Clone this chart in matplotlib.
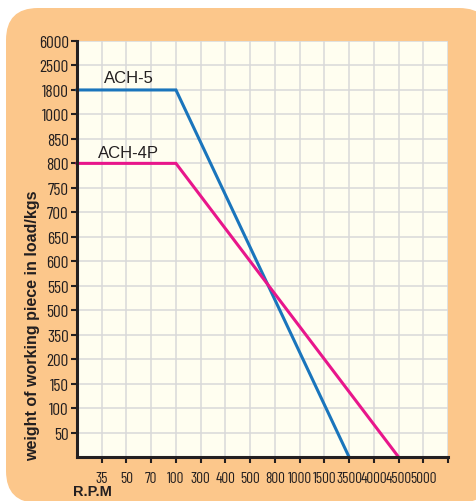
import matplotlib
import numpy as np
from matplotlib import pyplot as plt
from matplotlib.patches import FancyBboxPatch

matplotlib.use('Agg')

# category labels along the axes (bottom to top, left to right)
load_labels = ['50', '100', '150', '200', '350', '500', '550', '600', '650',
               '700', '750', '800', '850', '1000', '1800', '2500', '6000']
rpm_labels = ['35', '50', '70', '100', '300', '400', '500', '800', '1000',
              '1500', '3500', '4000', '4500', '5000']

# each series: (rpm, load) corner points, '0' is the origin
ach5_rpm = ['0', '100', '3500']
ach5_load = ['1800', '1800', '0']
ach4p_rpm = ['0', '100', '4500']
ach4p_load = ['800', '800', '0']


def pos(labels, values):
    # categorical position, origin sits at 0
    return [0 if v == '0' else labels.index(v) + 1 for v in values]


fig = plt.figure(figsize=(4.76, 5.02), dpi=100, facecolor='white')

# orange rounded frame behind everything
frame = FancyBboxPatch((0.06, -0.02), 4.85, 4.95,
                       boxstyle='round,pad=0,rounding_size=0.32',
                       transform=fig.dpi_scale_trans,
                       facecolor='#fcc78b', edgecolor='none', zorder=-5)
fig.patches.append(frame)

ax = fig.add_axes([0.1618, 0.0876, 0.7794, 0.8287])
ax.set_facecolor('#fffef0')
ax.set_xlim(0, len(rpm_labels) + 1)
ax.set_ylim(0, len(load_labels))

# the numbers in the original are very narrow
narrow = ['Barlow Condensed', 'Archivo Narrow', 'DejaVu Sans']

ax.set_yticks(np.arange(1, len(load_labels) + 1))
ax.set_yticklabels(load_labels, family=narrow, fontsize=12.5)
ax.set_xticks(np.arange(1, len(rpm_labels) + 2))
ax.set_xticklabels(rpm_labels + [''], family=narrow, fontsize=11)

ax.grid(True, color='#d9d9d9', linewidth=1.1)
ax.set_axisbelow(True)
ax.tick_params(axis='both', length=4, width=1.5, color='#231f20',
               labelcolor='#231f20', pad=2)
ax.tick_params(axis='x', pad=6)

for side in ['top', 'right']:
    ax.spines[side].set_visible(False)
for side in ['left', 'bottom']:
    ax.spines[side].set_linewidth(2.2)
    ax.spines[side].set_color('#231f20')

ax.plot(pos(rpm_labels, ach5_rpm), pos(load_labels, ach5_load),
        color='#1a75bc', linewidth=2.2, solid_joinstyle='miter', clip_on=False)
ax.plot(pos(rpm_labels, ach4p_rpm), pos(load_labels, ach4p_load),
        color='#e8168b', linewidth=2.2, solid_joinstyle='miter', clip_on=False)

ax.text(2.1, 15.5, 'ACH-5', ha='center', va='center', fontsize=12,
        family='Liberation Sans', color='#231f20')
ax.text(2.1, 12.45, 'ACH-4P', ha='center', va='center', fontsize=12,
        family='Liberation Sans', color='#231f20')

fig.text(33 / 476, 1 - 326 / 502, 'weight of working piece in load/kgs',
         rotation=90, ha='center', va='center', fontsize=11.5,
         fontweight='bold', family='Liberation Sans', color='#231f20')
fig.text(73 / 476, 1 - 492 / 502, 'R.P.M', ha='left', va='center',
         fontsize=10.5, fontweight='bold', family='Liberation Sans',
         color='#231f20')

plt.savefig('out.png', dpi=100, facecolor='white')
